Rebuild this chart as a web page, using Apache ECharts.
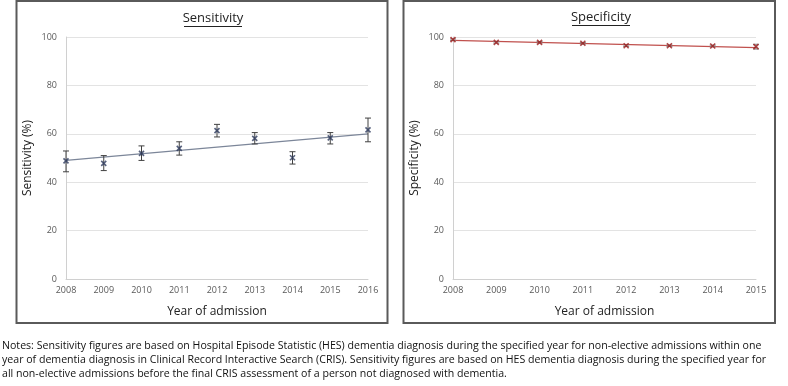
<!DOCTYPE html>
<html><head><meta charset="utf-8">
<script src="https://cdn.jsdelivr.net/npm/echarts@6/dist/echarts.min.js"></script>
<style>html,body{margin:0;padding:0;background:#fff}#c{width:788px;height:386px}</style>
</head><body><div id="c"></div>
<script>
const sensYears = [2008,2009,2010,2011,2012,2013,2014,2015,2016];
const sensValues = [48.8,47.8,51.9,54.0,61.3,58.1,50.1,58.3,61.6];
const sensLow = [44.3,44.8,49.0,51.2,58.7,55.8,47.5,55.8,56.7];
const sensHigh = [52.9,51.0,55.0,56.7,63.9,60.5,52.6,60.5,66.5];
const sensTrend = [[2008,49.0],[2016,60.0]];
const specYears = [2008,2009,2010,2011,2012,2013,2014,2015];
const specValues = [98.9,97.8,97.8,97.4,96.4,96.4,96.3,96.0];
const specLow = [98.6,97.5,97.5,97.1,96.1,96.1,96.0,95.0];
const specHigh = [99.2,98.1,98.1,97.7,96.7,96.7,96.6,97.0];
const specTrend = [[2008,98.6],[2015,95.6]];
const yTicks = [0,20,40,60,80,100];
const notes = [
 'Notes: Sensitivity figures are based on Hospital Episode Statistic (HES) dementia diagnosis during the specified year for non-elective admissions within one',
 'year of dementia diagnosis in Clinical Record Interactive Search (CRIS). Sensitivity figures are based on HES dementia diagnosis during the specified year for',
 'all non-elective admissions before the final CRIS assessment of a person not diagnosed with dementia.'
];

const FONT = 'Open Sans';
const chart = echarts.init(document.getElementById('c'), null, {renderer:'canvas'});

function errBar(color){
  return function(params, api){
    const x = api.value(0);
    const lo = api.coord([x, api.value(1)]);
    const hi = api.coord([x, api.value(2)]);
    const w = 3;
    const st = {stroke: color, lineWidth: 1};
    return {type:'group', children:[
      {type:'line', shape:{x1:lo[0],y1:lo[1],x2:hi[0],y2:hi[1]}, style:st},
      {type:'line', shape:{x1:lo[0]-w,y1:lo[1],x2:lo[0]+w,y2:lo[1]}, style:st},
      {type:'line', shape:{x1:hi[0]-w,y1:hi[1],x2:hi[0]+w,y2:hi[1]}, style:st}
    ]};
  };
}

function xAxis(gi, min, max){
  return {type:'value', gridIndex:gi, min:min, max:max, interval:1,
    axisLine:{show:true, lineStyle:{color:'#d0d0d0', width:1}},
    axisTick:{show:false}, splitLine:{show:false},
    axisLabel:{color:'#595959', fontSize:9, fontFamily:FONT, margin:7, formatter: v => String(v)},
    name:'Year of admission', nameLocation:'middle', nameGap:27,
    nameTextStyle:{color:'#222', fontSize:12, fontFamily:FONT}};
}
function yAxis(gi, name){
  return {type:'value', gridIndex:gi, min:yTicks[0], max:yTicks[yTicks.length-1], interval:20,
    axisLine:{show:true, lineStyle:{color:'#d0d0d0', width:1}},
    axisTick:{show:false},
    splitLine:{show:true, lineStyle:{color:'#e3e3e3', width:1}},
    axisLabel:{color:'#595959', fontSize:9, fontFamily:FONT, margin:9},
    name:name, nameLocation:'middle', nameGap:32, nameRotate:90,
    nameTextStyle:{color:'#222', fontSize:12, fontFamily:FONT, padding:[0,0,0,0]}};
}

const option = {
  animation:false,
  backgroundColor:'#fff',
  grid:[
    {left:66, right:420, top:37, bottom:107},
    {left:453, right:32, top:37, bottom:107}
  ],
  xAxis:[xAxis(0,2008,2016), xAxis(1,2008,2015)],
  yAxis:[yAxis(0,'Sensitivity (%)'), yAxis(1,'Specificity (%)')],
  graphic:[
    {type:'rect', shape:{x:16.5,y:1,width:371,height:322}, style:{fill:'none', stroke:'#5a5a5a', lineWidth:2}, silent:true},
    {type:'rect', shape:{x:403.5,y:1,width:371.5,height:322}, style:{fill:'none', stroke:'#5a5a5a', lineWidth:2}, silent:true},
    {type:'text', x:213, y:18, style:{text:'Sensitivity', fill:'#222', font:'13px "'+FONT+'"', align:'center', verticalAlign:'middle'}},
    {type:'line', shape:{x1:184,y1:26.5,x2:242,y2:26.5}, style:{stroke:'#222', lineWidth:1}},
    {type:'text', x:601, y:17, style:{text:'Specificity', fill:'#222', font:'13px "'+FONT+'"', align:'center', verticalAlign:'middle'}},
    {type:'line', shape:{x1:572,y1:25.5,x2:630,y2:25.5}, style:{stroke:'#222', lineWidth:1}},
    {type:'text', left:2, top:339, style:{text:notes.join('\n'), fill:'#111', font:'10.6px "'+FONT+'"', lineHeight:14}}
  ],
  series:[
    {type:'line', xAxisIndex:0, yAxisIndex:0, data:sensTrend, showSymbol:false, lineStyle:{color:'#7c8699', width:1.2}, z:2},
    {type:'custom', xAxisIndex:0, yAxisIndex:0, renderItem:errBar('#404040'),
      data: sensYears.map((y,i)=>[y, sensLow[i], sensHigh[i]]), z:3},
    {type:'scatter', xAxisIndex:0, yAxisIndex:0, data: sensYears.map((y,i)=>[y, sensValues[i]]),
      symbol:'path://M0,0L10,10M10,0L0,10', symbolSize:5,
      itemStyle:{color:'none', borderColor:'#2d3a5c', borderWidth:1.6}, z:4},
    {type:'line', xAxisIndex:1, yAxisIndex:1, data:specTrend, showSymbol:false, lineStyle:{color:'#c0504d', width:1.2}, z:2},
    {type:'custom', xAxisIndex:1, yAxisIndex:1, renderItem:errBar('#8a8a8a'),
      data: specYears.map((y,i)=>[y, specLow[i], specHigh[i]]), z:3},
    {type:'scatter', xAxisIndex:1, yAxisIndex:1, data: specYears.map((y,i)=>[y, specValues[i]]),
      symbol:'path://M0,0L10,10M10,0L0,10', symbolSize:5,
      itemStyle:{color:'none', borderColor:'#9b1c1c', borderWidth:1.6}, z:4}
  ]
};
chart.setOption(option);
</script></body></html>
